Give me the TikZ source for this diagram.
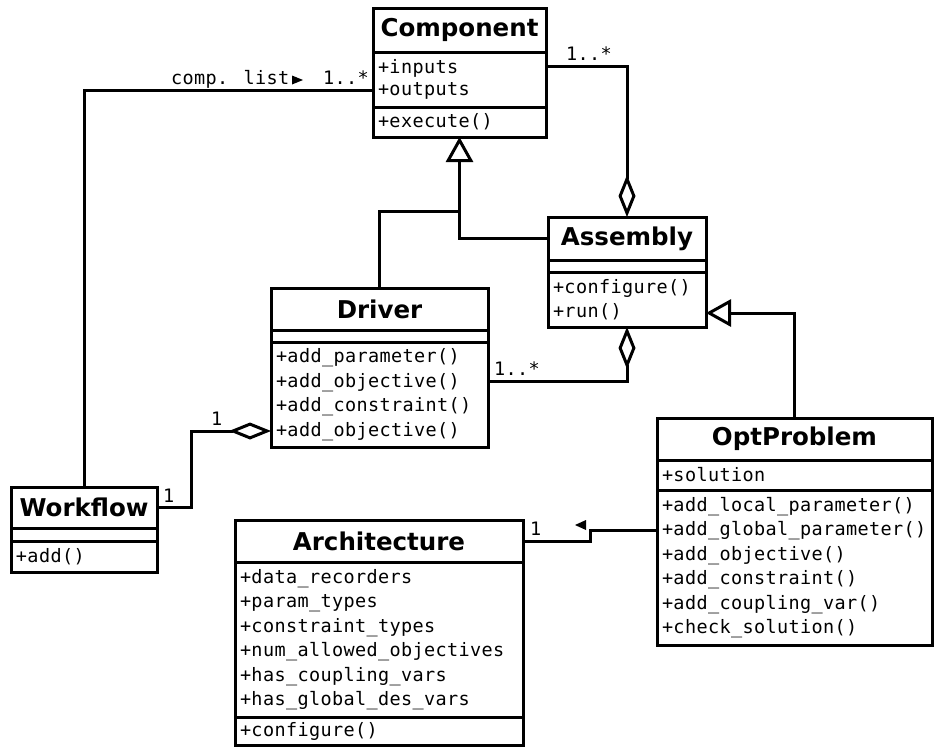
\documentclass[tikz,border=0pt]{standalone}
\usepackage{fontspec}
\setmainfont{DejaVu Sans}
\newfontfamily\codefont{DejaVu Sans Mono}[LetterSpace=2]
\usetikzlibrary{arrows.meta}

\tikzset{
  classname/.style={draw,line width=3pt,outer sep=0pt,anchor=north west,font=\fontsize{24.5}{28}\selectfont\bfseries},
  members/.style={draw,line width=3pt,outer sep=0pt,anchor=north west,align=left,inner xsep=5pt,inner ysep=0pt,font=\codefont\fontsize{18.5}{24.5}\selectfont},
  mult/.style={font=\codefont\fontsize{18.5}{20}\selectfont,inner sep=0pt,anchor=base west},
  link/.style={line width=3pt},
  gen/.style={link,-{Triangle[open,length=25pt,width=27pt]}},
  agg/.style={link,-{Diamond[open,length=42pt,width=17pt]}},
}

\begin{document}
\begin{tikzpicture}[x=1pt,y=-1pt]
        \useasboundingbox (0,0) rectangle (935,747);

        % classes
        \node[classname,minimum width=173pt,minimum height=44pt] (comp) at (373,8) {Component};
        \node[members,text width=163pt,minimum height=55pt,font=\codefont\fontsize{18.5}{22}\selectfont] (comp-a) at (comp.south west) {+inputs\\+outputs};
        \node[members,text width=163pt,minimum height=30pt] (comp-m) at (comp-a.south west) {+execute()};

        \node[classname,minimum width=158pt,minimum height=43pt] (asm) at (548,217) {Assembly};
        \node[members,text width=148pt,minimum height=12pt] (asm-a) at (asm.south west) {};
        \node[members,text width=148pt,minimum height=55pt] (asm-m) at (asm-a.south west) {+configure()\\+run()};

        \node[classname,minimum width=217pt,minimum height=42pt] (drv) at (271,288) {Driver};
        \node[members,text width=207pt,minimum height=12pt] (drv-a) at (drv.south west) {};
        \node[members,text width=207pt,minimum height=105pt] (drv-m) at (drv-a.south west) {+add\_parameter()\\+add\_objective()\\+add\_constraint()\\+add\_objective()};

        \node[classname,minimum width=275pt,minimum height=42pt] (opt) at (657,418) {OptProblem};
        \node[members,text width=265pt,minimum height=30pt] (opt-a) at (opt.south west) {+solution};
        \node[members,text width=265pt,minimum height=155pt] (opt-m) at (opt-a.south west) {+add\_local\_parameter()\\+add\_global\_parameter()\\+add\_objective()\\+add\_constraint()\\+add\_coupling\_var()\\+check\_solution()};

        \node[classname,minimum width=146pt,minimum height=41pt] (wf) at (11,487) {Workflow};
        \node[members,text width=136pt,minimum height=13pt] (wf-a) at (wf.south west) {};
        \node[members,text width=136pt,minimum height=31pt] (wf-m) at (wf-a.south west) {+add()};

        \node[classname,minimum width=288pt,minimum height=42pt] (arch) at (235,520) {Architecture};
        \node[members,text width=278pt,minimum height=155pt] (arch-a) at (arch.south west) {+data\_recorders\\+param\_types\\+constraint\_types\\+num\_allowed\_objectives\\+has\_coupling\_vars\\+has\_global\_des\_vars};
        \node[members,text width=278pt,minimum height=28pt] (arch-m) at (arch-a.south west) {+configure()};

        % generalisations
        \draw[gen] (asm.west) -| (comp-m.south);
        \draw[link] (drv.north) |- (comp-m.south |- 0,211);
        \draw[gen] (opt.north) |- (asm-m.east |- 0,313);

        % aggregations
        \draw[agg] (comp-a.east |- 0,66) -| (asm.north);
        \draw[agg] (drv-m.east |- 0,381) -| (asm-m.south);
        \draw[agg] (wf.east) -- ++(34,0) |- (drv-m.west |- 0,431);

        % associations
        \draw[link] (wf.north) |- (comp-a.west |- 0,90);
        \draw[link] (opt-m.west |- 0,530) -- (590,530) |- (arch.east);

        % labels
        \node[mult] (cl) at (171,84) {comp. list};
        \fill (292,75.5) -- (303,80) -- (292,84.5) -- cycle;
        \node[mult] (cl-m) at (323,84) {1..*};
        \node[mult] (comp-n) at (566,60) {1..*};
        \node[mult] (drv-n) at (494,375) {1..*};
        \node[mult] (drv-1) at (211,425) {1};
        \node[mult] (wf-1) at (163,502) {1};
        \node[mult] (arch-1) at (530,535) {1};
        \fill (575,525) -- (586,520) -- (586,530) -- cycle;
\end{tikzpicture}
\end{document}
